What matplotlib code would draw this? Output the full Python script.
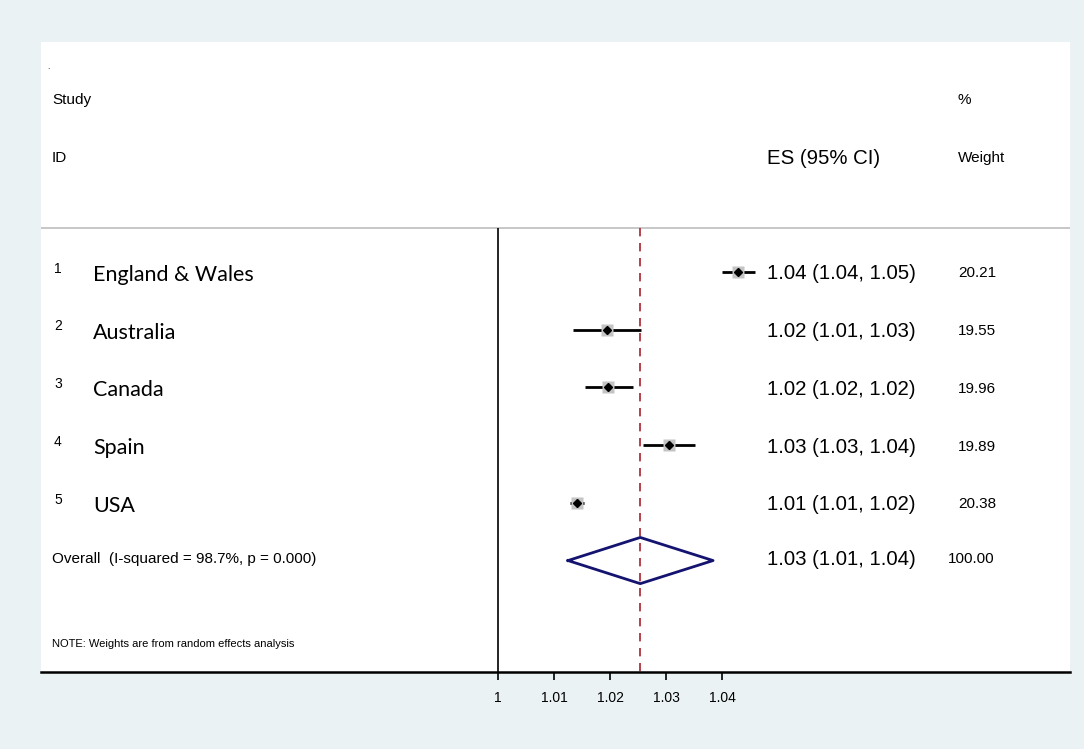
import numpy as np
import matplotlib.pyplot as plt
from matplotlib.transforms import blended_transform_factory

plt.rcParams['font.family'] = ['Liberation Sans', 'DejaVu Sans']

# study rows
ids = ['1', '2', '3', '4', '5']
countries = ['England & Wales', 'Australia', 'Canada', 'Spain', 'USA']
es = [1.0429, 1.0195, 1.0196, 1.0305, 1.0141]
lo = [1.0400, 1.0134, 1.0155, 1.0259, 1.0129]
hi = [1.0459, 1.0255, 1.0241, 1.0352, 1.0154]
es_text = ['1.04 (1.04, 1.05)', '1.02 (1.01, 1.03)', '1.02 (1.02, 1.02)',
           '1.03 (1.03, 1.04)', '1.01 (1.01, 1.02)']
weights = ['20.21', '19.55', '19.96', '19.89', '20.38']

# pooled estimate
overall_es = 1.0254
overall_lo = 1.0125
overall_hi = 1.0384
overall_text = '1.03 (1.01, 1.04)'
overall_label = 'Overall  (I-squared = 98.7%, p = 0.000)'

xticks = [1, 1.01, 1.02, 1.03, 1.04]
xticklabels = ['1', '1.01', '1.02', '1.03', '1.04']

bg = '#EAF2F3'
fig = plt.figure(figsize=(10.84, 7.49), dpi=100, facecolor=bg)
W, H = 1084, 749
ax = fig.add_axes([41 / W, 1 - 672 / H, (1070 - 41) / W, (672 - 42) / H])
ax.set_facecolor('white')

ax.set_xlim(0.91839, 1.10214)
ax.set_ylim(7.93, -2.98)
for s in ['top', 'left', 'right']:
    ax.spines[s].set_visible(False)
ax.spines['bottom'].set_linewidth(1.8)
ax.set_yticks([])
ax.set_xticks(xticks)
ax.set_xticklabels(xticklabels, fontsize=10)
ax.tick_params(axis='x', length=6, width=1.2, pad=8)

rows = np.arange(1, len(countries) + 1)
overall_row = len(countries) + 1
sep_y = 0.24

# header separator, null line, pooled-estimate line
ax.axhline(sep_y, color='#BDBDBD', lw=1.2)
ax.vlines(1.0, sep_y, 7.93, color='black', lw=1.2)
ax.vlines(overall_es, sep_y, 7.93, color='#A8202E', lw=1.2, linestyles=(0, (5, 4)))

# CIs and point estimates
ax.hlines(rows, lo, hi, color='black', lw=2)
ax.plot(es, rows, 's', ms=8, color='#C4C4C4', mec='none')
ax.plot(es, rows, 'D', ms=4.5, color='black')

# pooled diamond
dx = [overall_lo, overall_es, overall_hi, overall_es, overall_lo]
dy = [overall_row, overall_row - 0.4, overall_row, overall_row + 0.4, overall_row]
ax.plot(dx, dy, color='#141470', lw=2)

tr = blended_transform_factory(ax.transAxes, ax.transData)
def col(px):
    return (px - 41) / 1029

va = 'center_baseline'
ax.text(col(47), -2.55, '.', fontsize=6, va=va, transform=tr)
ax.text(col(52), -2.0, 'Study', fontsize=11, va=va, transform=tr)
ax.text(col(52), -1.0, 'ID', fontsize=11, va=va, transform=tr)
ax.text(col(767), -1.0, 'ES (95% CI)', fontsize=14.7, va=va, transform=tr)
ax.text(col(958), -2.0, '%', fontsize=11, va=va, transform=tr)
ax.text(col(958), -1.0, 'Weight', fontsize=11, va=va, transform=tr)

for r, i, c, t, w in zip(rows, ids, countries, es_text, weights):
    ax.text(col(54), r - 0.08, i, fontsize=10, va=va, transform=tr)
    ax.text(col(93), r + 0.02, c, fontsize=15.5, va=va, family=['Lato', 'DejaVu Sans'], transform=tr)
    ax.text(col(767), r, t, fontsize=14.7, va=va, transform=tr)
    ax.text(col(958), r, w, fontsize=11, va=va, transform=tr)

ax.text(col(52), overall_row - 0.05, overall_label, fontsize=11, va=va, transform=tr)
ax.text(col(767), overall_row - 0.05, overall_text, fontsize=14.7, va=va, transform=tr)
ax.text(col(948), overall_row - 0.05, '100.00', fontsize=11, va=va, transform=tr)
ax.text(col(52), 7.42, 'NOTE: Weights are from random effects analysis', fontsize=8, va=va, transform=tr)

fig.savefig('out.png', dpi=100, facecolor=bg)
